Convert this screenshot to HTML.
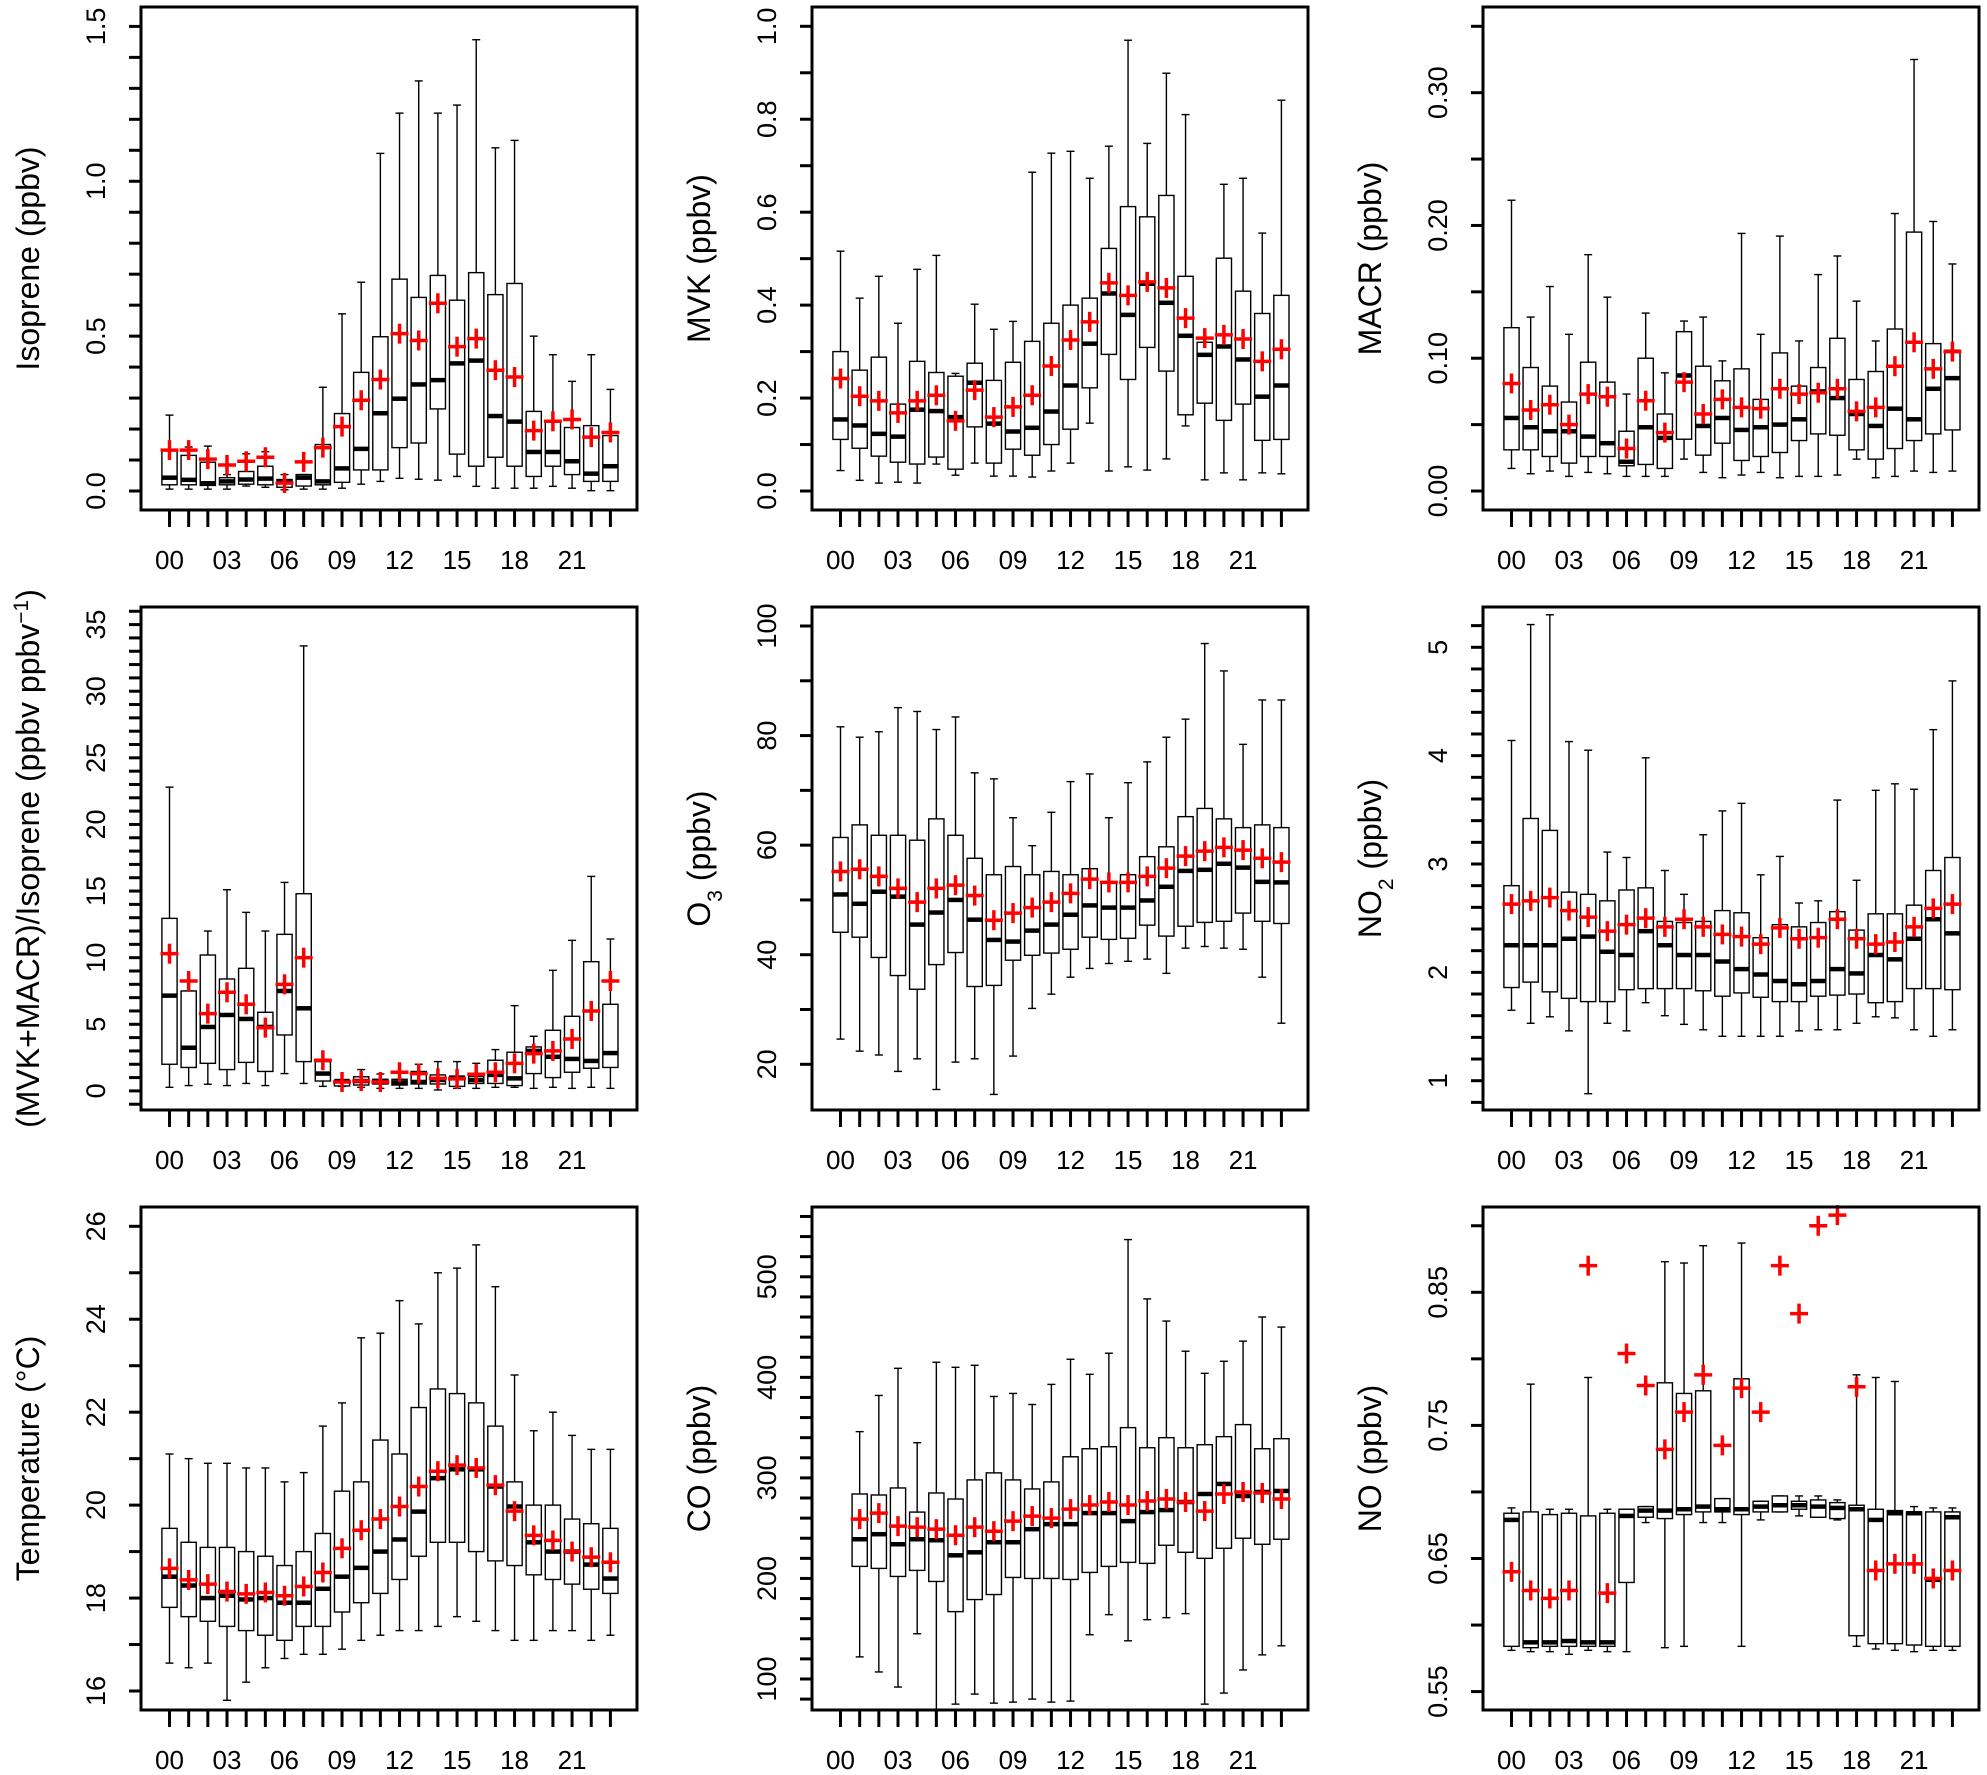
<!DOCTYPE html>
<html><head><meta charset="utf-8"><title>Diurnal box plots</title>
<style>
html,body{margin:0;padding:0;background:#fff;}
svg{display:block;font-family:"Liberation Sans",Arial,sans-serif;}
</style></head>
<body>
<svg id="fig" xmlns="http://www.w3.org/2000/svg" width="1987" height="1775" viewBox="0 0 1987 1775"></svg>
<script>
// ---------- data ----------
const hours = ["00","01","02","03","04","05","06","07","08","09","10","11","12","13","14","15","16","17","18","19","20","21","22","23"];

const isoLo  = [0.006,0.006,0.006,0.006,0.016,0.012,0.004,0.006,0.006,0.009,0.022,0.031,0.041,0.038,0.035,0.047,0.015,0.009,0.009,0.009,0.015,0.009,0.001,0.001];
const isoQ1  = [0.02,0.02,0.018,0.02,0.022,0.02,0.012,0.016,0.02,0.028,0.068,0.068,0.14,0.155,0.265,0.119,0.08,0.109,0.08,0.047,0.08,0.053,0.031,0.031];
const isoMed = [0.043,0.036,0.025,0.031,0.037,0.04,0.028,0.043,0.031,0.073,0.136,0.251,0.298,0.344,0.358,0.412,0.421,0.242,0.224,0.126,0.126,0.096,0.056,0.08];
const isoQ3  = [0.13,0.115,0.093,0.043,0.063,0.08,0.037,0.053,0.15,0.25,0.383,0.498,0.684,0.625,0.696,0.616,0.705,0.634,0.67,0.257,0.226,0.205,0.211,0.179];
const isoHi  = [0.245,0.142,0.145,0.053,0.12,0.127,0.053,0.053,0.335,0.572,0.674,1.09,1.22,1.324,1.22,1.246,1.457,1.108,1.132,0.5,0.44,0.354,0.44,0.328];
const isoMean= [0.132,0.132,0.103,0.084,0.096,0.109,0.026,0.094,0.14,0.208,0.293,0.36,0.508,0.486,0.606,0.466,0.492,0.39,0.368,0.195,0.225,0.231,0.174,0.189];

const mvkLo  = [0.044,0.023,0.017,0.019,0.017,0.058,0.034,0.06,0.032,0.032,0.03,0.043,0.06,0.146,0.043,0.052,0.045,0.069,0.14,0.024,0.039,0.024,0.039,0.037];
const mvkQ1  = [0.111,0.092,0.075,0.062,0.058,0.073,0.047,0.138,0.06,0.09,0.077,0.1,0.133,0.222,0.294,0.24,0.309,0.258,0.164,0.189,0.152,0.187,0.109,0.111];
const mvkMed = [0.154,0.141,0.123,0.117,0.175,0.172,0.159,0.233,0.145,0.128,0.136,0.171,0.227,0.317,0.425,0.379,0.446,0.405,0.334,0.293,0.311,0.283,0.203,0.227];
const mvkQ3  = [0.3,0.26,0.288,0.187,0.279,0.255,0.247,0.275,0.238,0.277,0.322,0.361,0.4,0.415,0.522,0.612,0.59,0.636,0.462,0.32,0.501,0.43,0.382,0.421];
const mvkHi  = [0.516,0.415,0.462,0.361,0.477,0.507,0.253,0.402,0.348,0.365,0.686,0.727,0.731,0.673,0.742,0.97,0.748,0.899,0.81,0.32,0.66,0.673,0.555,0.841];
const mvkMean= [0.242,0.204,0.194,0.168,0.194,0.206,0.151,0.217,0.159,0.181,0.206,0.269,0.325,0.364,0.448,0.421,0.45,0.437,0.372,0.329,0.336,0.327,0.279,0.305];

const macrLo  = [0.017,0.013,0.015,0.011,0.014,0.013,0.011,0.011,0.011,0.024,0.014,0.01,0.012,0.014,0.01,0.011,0.011,0.012,0.024,0.01,0.011,0.015,0.014,0.015];
const macrQ1  = [0.031,0.031,0.026,0.021,0.026,0.026,0.019,0.02,0.017,0.039,0.027,0.036,0.023,0.026,0.029,0.038,0.043,0.042,0.031,0.024,0.032,0.038,0.043,0.046];
const macrMed = [0.055,0.048,0.045,0.045,0.041,0.036,0.022,0.048,0.04,0.087,0.049,0.055,0.046,0.048,0.05,0.054,0.075,0.07,0.058,0.049,0.062,0.054,0.077,0.085];
const macrQ3  = [0.123,0.093,0.079,0.067,0.097,0.082,0.045,0.1,0.058,0.12,0.094,0.083,0.092,0.069,0.104,0.079,0.093,0.115,0.084,0.09,0.122,0.195,0.111,0.106];
const macrHi  = [0.219,0.131,0.154,0.118,0.178,0.146,0.073,0.134,0.089,0.128,0.131,0.098,0.194,0.118,0.192,0.113,0.163,0.177,0.143,0.113,0.209,0.325,0.203,0.171];
const macrMean= [0.081,0.061,0.065,0.05,0.073,0.071,0.032,0.068,0.044,0.082,0.058,0.069,0.063,0.062,0.077,0.073,0.074,0.077,0.06,0.063,0.094,0.112,0.092,0.105];

const ratLo  = [0.27,0.4,0.5,0.4,0.56,0.4,1.3,0.56,0.34,0.34,0.27,0.19,0.19,0.19,0.07,0.19,0.19,0.27,0.27,0.19,0.27,0.19,0.27,0.19];
const ratQ1  = [2.0,1.76,2.07,1.6,2.14,1.46,4.2,2.2,0.74,0.37,0.44,0.52,0.44,0.52,0.52,0.34,0.56,0.56,0.4,1.3,1.0,1.4,1.7,1.76];
const ratMed = [7.15,3.24,4.8,5.7,5.4,4.8,7.5,6.2,1.3,0.74,0.74,0.74,0.64,0.67,0.82,1.0,0.82,1.2,0.94,3.0,2.56,2.4,2.25,2.84];
const ratQ3  = [12.95,7.5,10.2,8.4,9.2,5.9,11.75,14.8,2.2,0.79,1.06,0.87,0.87,1.46,1.2,1.1,1.1,2.3,2.9,3.3,4.55,5.6,9.7,6.5];
const ratHi  = [22.8,7.5,12.0,15.1,13.4,12.0,15.65,33.4,2.2,0.79,1.6,1.27,0.87,2.0,2.2,2.2,2.07,3.1,6.4,4.1,9.05,11.3,16.1,11.4];
const ratMean= [10.3,8.25,5.8,7.4,6.5,4.75,8.0,10.0,2.3,0.67,0.74,0.67,1.4,1.3,0.94,0.9,1.25,1.4,2.07,2.8,3.0,3.9,6.0,8.25];

const o3Lo  = [24.6,22.4,21.7,18.7,21,15.4,20.4,21,14.5,21.5,30.2,32.8,35.9,37.5,38.4,38.8,39.2,36.6,41.2,41.5,41.2,41.0,35.9,27.5];
const o3Q1  = [44.1,43.2,39.5,36.2,33.7,38.2,40.4,34.2,34.4,39.0,39.9,40.3,41.0,43.2,42.8,43.0,45.4,43.4,45.2,45.9,46.1,47.6,46.1,45.7];
const o3Med = [51.0,49.3,51.5,50.6,45.5,47.7,50.0,46.4,42.7,42.4,44.4,45.5,47.3,49.0,48.6,48.6,49.9,52.4,55.3,55.5,56.6,55.9,53.3,53.2];
const o3Q3  = [61.4,63.7,61.8,61.8,60.9,64.8,61.8,57.6,54.6,56.1,54.6,55.2,54.6,55.7,53.3,54.6,57.9,59.7,65.2,66.7,64.8,63.2,63.7,63.2];
const o3Hi  = [81.6,79.7,80.7,85.1,84.4,81.1,83.4,73.2,72.1,65.0,59.9,66.0,71.6,73.0,65.0,71.4,75.2,79.7,83.0,96.8,91.8,78.4,86.5,86.5];
const o3Mean= [55.2,55.6,54.3,52.1,49.6,52.1,52.7,50.8,46.3,47.6,48.6,49.6,51.2,53.8,53.2,53.2,54.3,55.8,58.0,58.9,59.6,59.1,57.6,56.9];

const no2Lo  = [1.65,1.53,1.59,1.46,0.88,1.53,1.46,1.72,1.6,1.52,1.47,1.41,1.41,1.41,1.41,1.46,1.47,1.47,1.53,1.59,1.58,1.47,1.41,1.47];
const no2Q1  = [1.86,1.91,1.82,1.76,1.73,1.73,1.84,1.85,1.85,1.85,1.83,1.78,1.81,1.77,1.73,1.73,1.78,1.79,1.8,1.72,1.73,1.85,1.85,1.84];
const no2Med = [2.25,2.25,2.25,2.31,2.33,2.19,2.16,2.38,2.25,2.16,2.16,2.1,2.03,1.98,1.92,1.89,1.92,2.03,1.99,2.16,2.12,2.31,2.49,2.36];
const no2Q3  = [2.8,3.42,3.31,2.74,2.72,2.66,2.76,2.78,2.47,2.46,2.47,2.57,2.55,2.32,2.44,2.42,2.46,2.56,2.39,2.54,2.54,2.62,2.94,3.06];
const no2Hi  = [4.14,5.21,5.3,4.13,4.05,3.11,3.06,3.98,2.94,2.72,3.27,3.49,3.56,2.9,3.07,2.64,2.66,3.59,2.85,3.68,3.74,3.69,4.24,4.69];
const no2Mean= [2.63,2.66,2.69,2.57,2.51,2.38,2.44,2.5,2.42,2.49,2.42,2.35,2.33,2.26,2.41,2.31,2.32,2.49,2.31,2.26,2.28,2.42,2.59,2.63];

const tLo  = [16.6,16.5,16.6,15.8,16.19,16.5,16.7,16.79,16.79,16.9,17.09,17.2,17.3,17.3,17.39,17.6,17.5,17.3,17.09,17.09,17.3,17.3,17.09,17.2];
const tQ1  = [17.8,17.6,17.5,17.39,17.3,17.2,17.09,17.39,17.39,17.7,17.9,18.1,18.4,18.9,19.2,19.2,19.0,18.8,18.7,18.5,18.4,18.3,18.19,18.1];
const tMed = [18.46,18.27,18.0,18.05,17.97,18.0,17.9,17.9,18.2,18.46,18.65,19.0,19.26,19.86,20.58,20.77,20.77,20.4,19.97,19.2,19.0,19.0,18.72,18.42];
const tQ3  = [19.5,19.2,19.09,19.09,19.0,18.9,18.7,19.0,19.39,20.3,20.5,21.4,21.1,22.1,22.5,22.4,22.2,21.7,20.5,20.0,20.0,19.7,19.6,19.5];
const tHi  = [21.1,21.0,20.9,20.9,20.8,20.8,20.5,20.7,21.7,22.2,23.6,23.7,24.4,23.9,25.0,25.1,25.6,24.7,22.8,21.6,22.0,21.5,21.2,21.2];
const tMean= [18.64,18.39,18.3,18.14,18.09,18.12,18.05,18.25,18.55,19.07,19.46,19.7,19.97,20.4,20.73,20.86,20.8,20.43,19.87,19.35,19.24,19.0,18.88,18.77];

const coLo  = [null,122,107,92,145,70,75,85,76,77,80,77,78,144,164,138,159,161,165,75,86,109,124,133];
const coQ1  = [null,212,210,202,208,197,167,179,184,201,200,200,199,206,212,216,215,233,226,220,230,240,234,239];
const coMed = [null,239,244,234,239,238,223,226,236,236,249,254,254,265,265,257,266,268,276,284,294,282,286,287];
const coQ3  = [null,284,283,290,266,285,279,298,305,298,289,296,321,329,331,350,330,340,330,333,341,353,329,339];
const coHi  = [null,346,382,409,335,415,410,412,381,384,373,393,418,403,424,537,478,456,426,404,416,436,460,450];
const coMean= [null,259,265,252,251,249,243,251,247,257,262,260,269,273,276,273,277,279,276,267,284,286,285,279];

const noLo  = [0.581,0.58,0.58,0.578,0.581,0.58,0.58,0.677,0.583,0.584,0.677,0.677,0.584,0.679,0.685,0.682,0.681,0.679,0.584,0.582,0.581,0.58,0.581,0.581];
const noQ1  = [0.584,0.583,0.584,0.584,0.584,0.584,0.632,0.681,0.68,0.683,0.685,0.685,0.683,0.685,0.685,0.687,0.681,0.68,0.592,0.586,0.586,0.585,0.584,0.584];
const noMed = [0.679,0.587,0.587,0.588,0.587,0.587,0.682,0.686,0.686,0.687,0.689,0.687,0.687,0.689,0.69,0.69,0.689,0.688,0.687,0.679,0.684,0.684,0.634,0.681];
const noQ3  = [0.684,0.685,0.683,0.684,0.682,0.684,0.687,0.689,0.782,0.774,0.776,0.695,0.785,0.693,0.697,0.693,0.694,0.692,0.69,0.687,0.686,0.685,0.685,0.685];
const noHi  = [0.688,0.781,0.687,0.687,0.786,0.687,0.687,0.689,0.873,0.872,0.885,0.695,0.887,0.693,0.697,0.697,0.697,0.694,0.788,0.786,0.783,0.689,0.688,0.688];
const noMean= [0.64,0.626,0.62,0.626,0.87,0.624,0.804,0.78,0.732,0.76,0.788,0.735,0.778,0.76,0.87,0.834,0.9,0.908,0.779,0.641,0.646,0.646,0.635,0.641];

// axis tick specs (values)
const isoTicks = {min:0, max:1.5, step:0.1, labels:[0,0.5,1.0,1.5], dec:1};
const mvkTicks = {min:0, max:1.0, step:0.1, labels:[0,0.2,0.4,0.6,0.8,1.0], dec:1};
const macrTicks= {min:0, max:0.35, step:0.05, labels:[0,0.1,0.2,0.3], dec:2};
const ratTicks = {min:-1, max:36, step:1, labels:[0,5,10,15,20,25,30,35], dec:0};
const o3Ticks  = {min:20, max:100, step:10, labels:[20,40,60,80,100], dec:0};
const no2Ticks = {min:0.8, max:5.2, step:0.2, labels:[1,2,3,4,5], dec:0};
const tTicks   = {min:16, max:26, step:1, labels:[16,18,20,22,24,26], dec:0};
const coTicks  = {min:80, max:560, step:20, labels:[100,200,300,400,500], dec:0};
const noTicks  = {min:0.55, max:0.90, step:0.05, labels:[0.55,0.65,0.75,0.85], dec:2};

// ---------- layout ----------
const NS = "http://www.w3.org/2000/svg";
const svg = document.getElementById("fig");
const colX = [141, 812, 1483];
const rowY = [7, 607, 1207];
const PW = 496, PH = 503;

const panels = [
  {id:"isoprene", c:0, r:0, lo:isoLo,q1:isoQ1,med:isoMed,q3:isoQ3,hi:isoHi,mean:isoMean,ticks:isoTicks, cal:[0,491,1.5,26.4], title:[["Isoprene (ppbv)",""]]},
  {id:"mvk", c:1, r:0, lo:mvkLo,q1:mvkQ1,med:mvkMed,q3:mvkQ3,hi:mvkHi,mean:mvkMean,ticks:mvkTicks, cal:[0,491,1.0,26.3], title:[["MVK (ppbv)",""]]},
  {id:"macr", c:2, r:0, lo:macrLo,q1:macrQ1,med:macrMed,q3:macrQ3,hi:macrHi,mean:macrMean,ticks:macrTicks, cal:[0,491,0.35,26.3], title:[["MACR (ppbv)",""]]},
  {id:"ratio", c:0, r:1, lo:ratLo,q1:ratQ1,med:ratMed,q3:ratQ3,hi:ratHi,mean:ratMean,ticks:ratTicks, cal:[0,1090.9,35,624.6], title:[["(MVK+MACR)/Isoprene (ppbv ppbv",""],["\u22121","sup"],[")",""]]},
  {id:"o3", c:1, r:1, lo:o3Lo,q1:o3Q1,med:o3Med,q3:o3Q3,hi:o3Hi,mean:o3Mean,ticks:o3Ticks, cal:[20,1064.3,100,626], title:[["O",""],["3","sub"],[" (ppbv)",""]]},
  {id:"no2", c:2, r:1, lo:no2Lo,q1:no2Q1,med:no2Med,q3:no2Q3,hi:no2Hi,mean:no2Mean,ticks:no2Ticks, cal:[1,1080.7,5,647.3], title:[["NO",""],["2","sub"],[" (ppbv)",""]]},
  {id:"temperature", c:0, r:2, lo:tLo,q1:tQ1,med:tMed,q3:tQ3,hi:tHi,mean:tMean,ticks:tTicks, cal:[16,1691,26,1226.3], title:[["Temperature (\u00B0C)",""]]},
  {id:"co", c:1, r:2, lo:coLo,q1:coQ1,med:coMed,q3:coQ3,hi:coHi,mean:coMean,ticks:coTicks, cal:[100,1679,500,1276.8], title:[["CO (ppbv)",""]]},
  {id:"no", c:2, r:2, lo:noLo,q1:noQ1,med:noMed,q3:noQ3,hi:noHi,mean:noMean,ticks:noTicks, cal:[0.55,1691.6,0.85,1292.3], title:[["NO (ppbv)",""]]}
];

function mk(tag, attrs, parent){
  const e = document.createElementNS(NS, tag);
  for (const k in attrs) e.setAttribute(k, attrs[k]);
  parent.appendChild(e);
  return e;
}

panels.forEach(p => {
  const x0 = colX[p.c], y0 = rowY[p.r], x1 = x0 + PW, y1 = y0 + PH;
  const [vA, yA, vB, yB] = p.cal;
  const Y = v => yA + (v - vA) * (yB - yA) / (vB - vA);
  const X = i => x0 + 28.5 + 19.17 * i;

  const g = mk("g", {}, svg);
  
  

  // boxes
  const bw = 7.6;
  for (let i = 0; i < hours.length; i++) {
    if (p.med[i] == null) continue;
    const x = X(i);
    const bg = mk("g", {}, g);
    
    
    const yq1 = Y(p.q1[i]), yq3 = Y(p.q3[i]), ylo = Y(p.lo[i]), yhi = Y(p.hi[i]), ym = Y(p.med[i]);
    mk("line", {x1:x, x2:x, y1:yq3, y2:yhi, stroke:"#000", "stroke-width":1.4}, bg);
    mk("line", {x1:x, x2:x, y1:yq1, y2:ylo, stroke:"#000", "stroke-width":1.4}, bg);
    mk("line", {x1:x-4, x2:x+4, y1:yhi, y2:yhi, stroke:"#000", "stroke-width":1.4}, bg);
    mk("line", {x1:x-4, x2:x+4, y1:ylo, y2:ylo, stroke:"#000", "stroke-width":1.4}, bg);
    mk("rect", {x:x-bw, y:Math.min(yq1,yq3), width:2*bw, height:Math.max(0.5,Math.abs(yq1-yq3)), fill:"#fff", stroke:"#000", "stroke-width":1.4}, bg);
    mk("line", {x1:x-bw, x2:x+bw, y1:ym, y2:ym, stroke:"#000", "stroke-width":4.5}, bg);
    const mean = mk("g", {}, g);
    
    
    const yme = Y(p.mean[i]);
    mk("line", {x1:x-9, x2:x+9, y1:yme, y2:yme, stroke:"#ff0000", "stroke-width":3.5}, mean);
    mk("line", {x1:x, x2:x, y1:yme-10, y2:yme+10, stroke:"#ff0000", "stroke-width":3.5}, mean);
  }

  // frame
  const fr = mk("rect", {x:x0, y:y0, width:PW, height:PH, fill:"none", stroke:"#000", "stroke-width":3}, g);
  
  

  // x axis
  const xa = mk("g", {}, g);
  
  
  for (let i = 0; i < hours.length; i++) {
    mk("line", {x1:X(i), x2:X(i), y1:y1, y2:y1+17, stroke:"#000", "stroke-width":3}, xa);
    if (i % 3 === 0) {
      const t = mk("text", {x:X(i), y:y1+59, "font-size":26, "text-anchor":"middle", fill:"#000"}, xa);
      t.textContent = hours[i];
      
      
    }
  }

  // y axis
  const ya = mk("g", {}, g);
  
  
  const tk = p.ticks;
  const n = Math.round((tk.max - tk.min) / tk.step);
  for (let k = 0; k <= n; k++) {
    const v = tk.min + k * tk.step;
    const yy = Y(v);
    if (yy < y0 || yy > y1) continue;
    mk("line", {x1:x0-12, x2:x0, y1:yy, y2:yy, stroke:"#000", "stroke-width":3}, ya);
  }
  tk.labels.forEach(v => {
    const yy = Y(v);
    const bx = x0 - 36;
    const t = mk("text", {x:bx, y:yy, "font-size":27, "text-anchor":"middle", fill:"#000", transform:"rotate(-90 " + bx + " " + yy + ")"}, ya);
    t.textContent = v.toFixed(tk.dec);
    
    
  });

  // y title
  const tx = x0 - 102, ty = (y0 + y1) / 2;
  const tt = mk("text", {x:tx, y:ty, "font-size":32, "text-anchor":"middle", fill:"#000", transform:"rotate(-90 " + tx + " " + ty + ")"}, g);
  
  
  p.title.forEach(([s, kind]) => {
    const ts = mk("tspan", {}, tt);
    if (kind === "sup") { ts.setAttribute("baseline-shift", "super"); ts.setAttribute("font-size", "21"); }
    if (kind === "sub") { ts.setAttribute("baseline-shift", "sub"); ts.setAttribute("font-size", "21"); }
    ts.textContent = s;
  });
});
</script>
</body></html>
